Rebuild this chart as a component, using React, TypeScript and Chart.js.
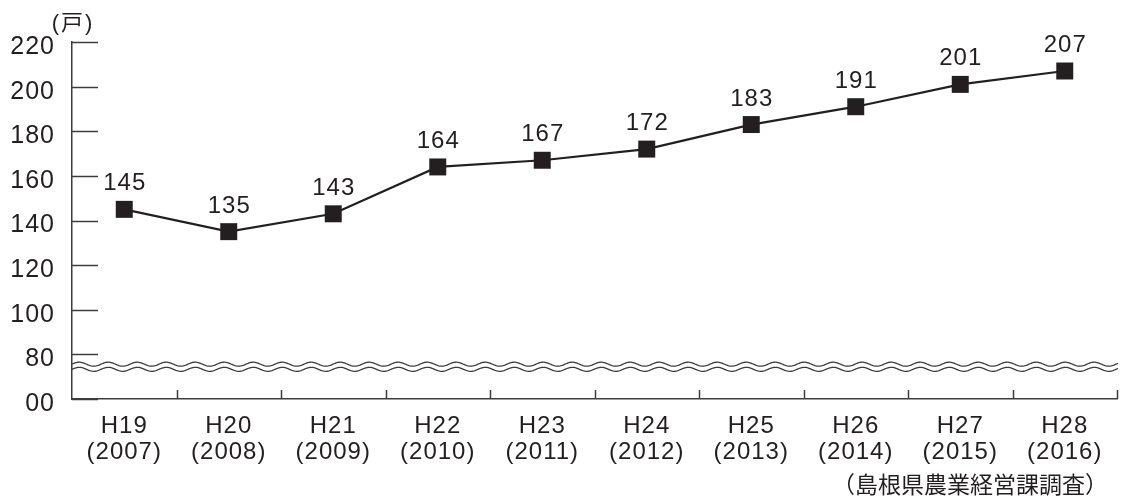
import React, { useEffect, useRef } from "react";
import { Chart, registerables } from "chart.js";

Chart.register(...registerables);

const eraLabels = ["H19", "H20", "H21", "H22", "H23", "H24", "H25", "H26", "H27", "H28"];
const yearLabels = ["2007", "2008", "2009", "2010", "2011", "2012", "2013", "2014", "2015", "2016"];
const households = [145, 135, 143, 164, 167, 172, 183, 191, 201, 207];
const yTickValues = [60, 80, 100, 120, 140, 160, 180, 200, 220];
const unitLabel = "(戸)";
const sourceLabel = "（島根県農業経営課調査）";

const INK = "#231f20";
const AXIS = "#3c3c3c";
const BREAK_UPPER = 75.6;
const BREAK_LOWER = 73.3;
const LATIN = "'Liberation Sans', Arial, sans-serif";

const decorPlugin = {
  id: "decor",
  beforeDraw(chart: any) {
    chart.ctx.letterSpacing = "1px";
  },
  afterDraw(chart: any) {
    const ctx = chart.ctx;
    const { left, right, bottom } = chart.chartArea;
    const xs = chart.scales.x;
    const ys = chart.scales.y;
    ctx.save();
    // inner y ticks
    ctx.strokeStyle = AXIS;
    ctx.lineWidth = 1.5;
    yTickValues.forEach((v) => {
      const y = Math.round(ys.getPixelForValue(v)) + 0.5;
      ctx.beginPath();
      ctx.moveTo(left, y);
      ctx.lineTo(left + 26, y);
      ctx.stroke();
    });
    // x boundary ticks (upward)
    for (let i = 1; i <= eraLabels.length; i++) {
      const x = Math.round(xs.getPixelForValue(i - 0.5)) + 0.5;
      ctx.beginPath();
      ctx.moveTo(x, bottom);
      ctx.lineTo(x, bottom - 9);
      ctx.stroke();
    }
    // axis break waves
    ctx.lineWidth = 1.3;
    [BREAK_UPPER, BREAK_LOWER].forEach((v) => {
      const yc = ys.getPixelForValue(v);
      ctx.beginPath();
      for (let x = left; x <= right + 1; x += 1) {
        const y = yc - 2 * Math.sin(((x - left) / 29) * Math.PI * 2);
        if (x === left) ctx.moveTo(x, y);
        else ctx.lineTo(x, y);
      }
      ctx.stroke();
    });
    // unit label
    ctx.fillStyle = INK;
    ctx.letterSpacing = "2px";
    ctx.font = "22px 'Liberation Sans', 'Noto Sans CJK JP'";
    ctx.textAlign = "center";
    ctx.textBaseline = "middle";
    ctx.fillText(unitLabel, left + 1, 24);
    // source label
    ctx.letterSpacing = "0px";
    ctx.font = "23px 'Noto Sans CJK JP'";
    ctx.textAlign = "right";
    ctx.fillText(sourceLabel, 1108, 484);
    ctx.restore();
  },
  afterDatasetsDraw(chart: any) {
    const ctx = chart.ctx;
    const meta = chart.getDatasetMeta(0);
    ctx.save();
    ctx.letterSpacing = "1px";
    ctx.fillStyle = INK;
    ctx.font = "24px " + LATIN;
    ctx.textAlign = "center";
    ctx.textBaseline = "alphabetic";
    meta.data.forEach((pt: any, i: number) => {
      ctx.fillText(String(households[i]), pt.x + 0.5, pt.y - 19);
    });
    ctx.restore();
  },
};

export default function App() {
  const ref = useRef<HTMLCanvasElement>(null);
  useEffect(() => {
    if (!ref.current) return;
    const chart = new Chart(ref.current, {
      type: "line",
      data: {
        labels: eraLabels.map((e, i) => [e, "(" + yearLabels[i] + ")"]),
        datasets: [
          {
            data: households,
            borderColor: INK,
            borderWidth: 2.2,
            pointStyle: "rect",
            pointRadius: 12,
            pointBackgroundColor: INK,
            pointBorderColor: INK,
            pointBorderWidth: 0,
            tension: 0,
          },
        ],
      },
      options: {
        responsive: false,
        animation: false,
        layout: { padding: { top: 42, right: 4, left: 0, bottom: 0 } },
        plugins: { legend: { display: false }, tooltip: { enabled: false } },
        scales: {
          x: {
            offset: true,
            grid: { display: false, drawTicks: false },
            border: { display: true, color: AXIS, width: 1.5 },
            ticks: {
              color: INK,
              padding: 14,
              autoSkip: false,
              maxRotation: 0,
              font: { family: LATIN, size: 24, lineHeight: "26px" },
            },
            afterFit: (s: any) => {
              s.height = 99;
            },
          },
          y: {
            min: 60,
            max: 220,
            grid: { display: false, drawTicks: false },
            border: { display: true, color: AXIS, width: 1.5 },
            ticks: {
              stepSize: 20,
              color: INK,
              padding: 17,
              labelOffset: 5,
              font: { family: LATIN, size: 25 },
              callback: (v: any) => (v === 60 ? "00" : String(v)),
            },
            afterFit: (s: any) => {
              s.width = 72;
            },
          },
        },
      },
      plugins: [decorPlugin],
    });
    return () => chart.destroy();
  }, []);
  return (
    <div style={{ position: "absolute", left: 0, top: 0, width: 1129, height: 498, background: "#fff" }}>
      <canvas ref={ref} width={1129} height={498} style={{ width: 1129, height: 498 }} />
    </div>
  );
}
